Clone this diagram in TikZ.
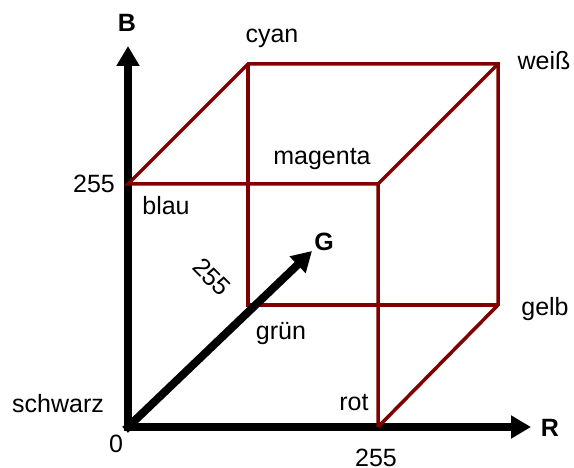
\documentclass[tikz,border=0pt]{standalone}
\usepackage{fontspec}
\setmainfont{Liberation Sans}
\usepackage{xcolor}
\usetikzlibrary{arrows.meta}
\definecolor{cubered}{RGB}{128,0,0}

\begin{document}
\begin{tikzpicture}[x=1pt,y=-1pt,
  axis/.style={line width=8pt,line cap=rect,-{Triangle[length=20pt,width=22pt]}},
  edge/.style={cubered,line width=3.5pt,line join=miter},
  lbl/.style={anchor=base,inner sep=0pt,font=\fontsize{25}{29}\selectfont},
  axlbl/.style={anchor=base,inner sep=0pt,font=\fontsize{25}{29}\selectfont\bfseries}]
  \useasboundingbox (0,0) rectangle (574,468);
  % corners of the cube
  \coordinate (schwarz) at (128,427);
  \coordinate (rot)     at (378,427);
  \coordinate (blau)    at (128,184);
  \coordinate (magenta) at (378,184);
  \coordinate (gruen)   at (248,305);
  \coordinate (gelb)    at (498,305);
  \coordinate (cyan)    at (248,64);
  \coordinate (weiss)   at (498,64);
  % axis ends
  \coordinate (Rend) at (531,427);
  \coordinate (Bend) at (128,46);
  \coordinate (Gend) at (312,251);
  \draw[axis] (schwarz) -- (Rend);
  \draw[axis] (schwarz) -- (Bend);
  \draw[edge] (rot) -- (magenta) -- (blau) -- (cyan) -- (weiss) -- (gelb) -- (rot);
  \draw[edge] (magenta) -- (weiss);
  \draw[edge] (cyan) -- (gruen) -- (gelb);
  \draw[axis] (schwarz) -- (Gend);
  \node[axlbl] (labB) at (127,32) {B};
  \node[axlbl] (labG) at (324,251) {G};
  \node[axlbl] (labR) at (550,436) {R};
  \node[lbl] (lcyan) at (272,43) {cyan};
  \node[lbl] (lweiss) at (544,70) {weiß};
  \node[lbl] (lmagenta) at (322,165) {magenta};
  \node[lbl] (lblau) at (166,215) {blau};
  \node[lbl] (lgruen) at (281,340) {grün};
  \node[lbl] (lgelb) at (545,316) {gelb};
  \node[lbl] (lrot) at (354,410) {rot};
  \node[lbl] (lschwarz) at (58,413) {schwarz};
  \node[lbl] (lnull) at (116,452) {0};
  \node[lbl] (lbmax) at (94,193) {255};
  \node[lbl] (lrmax) at (376,466) {255};
  \node[lbl,anchor=center,rotate=-45] (lgmax) at (212,277) {255};
\end{tikzpicture}
\end{document}
